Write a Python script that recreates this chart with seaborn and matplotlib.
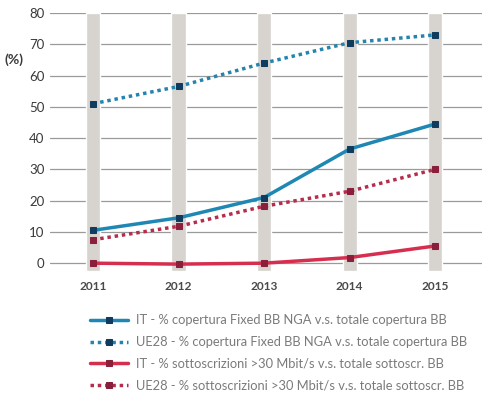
import matplotlib
matplotlib.use("Agg")
import matplotlib.pyplot as plt
import seaborn as sns
import pandas as pd

years = [2011, 2012, 2013, 2014, 2015]
it_fixed = [10.5, 14.5, 21.0, 36.5, 44.5]
ue_fixed = [51.0, 56.5, 64.0, 70.5, 73.0]
it_subs = [0.0, -0.3, 0.0, 1.8, 5.5]
ue_subs = [7.5, 11.8, 18.2, 23.0, 30.0]

labels = [
    "IT - % copertura Fixed BB NGA v.s. totale copertura BB",
    "UE28 - % copertura Fixed BB NGA v.s. totale copertura BB",
    "IT - % sottoscrizioni >30 Mbit/s v.s. totale sottoscr. BB",
    "UE28 - % sottoscrizioni >30 Mbit/s v.s. totale sottoscr. BB",
]

sns.set_style("white")
plt.rcParams["font.family"] = ["Lato", "DejaVu Sans"]

fig = plt.figure(figsize=(4.95, 4.0), dpi=100)
ax = fig.add_axes([0.101, 0.3225, 0.873, 0.645])

# grey bands behind each year
ax.bar(years, 82.5, bottom=-2.5, width=0.165, color="#d7d3ce", zorder=1)
for v in range(0, 81, 10):
    ax.axhline(v, color="#9a9a9a", lw=0.9, zorder=0)

series = [
    (it_fixed, "#1e87b4", "#0f3b5e", "-"),
    (ue_fixed, "#2384ae", "#0f3b5e", (0, (1, 1.1))),
    (it_subs, "#d62e4e", "#8a1f3b", "-"),
    (ue_subs, "#b52d4c", "#8a1f3b", (0, (1, 1.1))),
]
for (vals, col, mcol, ls), lab in zip(series, labels):
    df = pd.DataFrame({"year": years, "val": vals})
    sns.lineplot(data=df, x="year", y="val", ax=ax, color=col, lw=2.5,
                 linestyle=ls, marker="s", markersize=5,
                 markerfacecolor=mcol, markeredgecolor=mcol,
                 label=lab, zorder=3)

ax.set_xlim(2010.497, 2015.55)
ax.set_ylim(-2.5, 80)
ax.set_xticks(years)
ax.set_xticklabels([str(y) for y in years], fontsize=8.6, fontweight="bold", color="#4a4a4a")
ax.set_yticks(range(0, 81, 10))
ax.set_yticklabels([str(v) for v in range(0, 81, 10)], fontsize=9.5, color="#3a3a3a")
ax.tick_params(axis="both", length=0, pad=4)
ax.tick_params(axis="x", pad=7)
ax.set_xlabel("")
ax.set_ylabel("")
for s in ax.spines.values():
    s.set_visible(False)

fig.text(0.01, 0.84, "(%)", fontsize=10, fontweight="bold", color="#3a3a3a")

handles, labs = ax.get_legend_handles_labels()
ax.get_legend().remove()
fig.legend(handles, labs, loc="upper left", bbox_to_anchor=(0.172, 0.227),
           frameon=False, fontsize=9.3, handlelength=2.95, handletextpad=0.55,
           labelspacing=0.76, labelcolor="#7a7a7a", borderaxespad=0)

fig.savefig("out.png", dpi=100)
